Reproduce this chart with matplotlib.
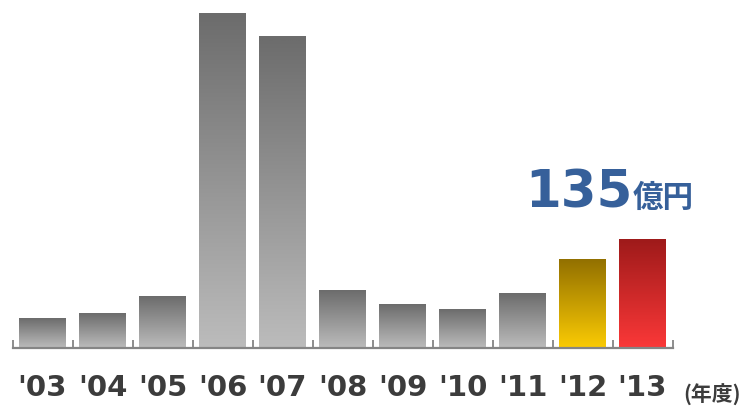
import numpy as np
import matplotlib
matplotlib.use("Agg")
import matplotlib.pyplot as plt
from matplotlib.colors import LinearSegmentedColormap

years = ["'03", "'04", "'05", "'06", "'07", "'08", "'09", "'10", "'11", "'12", "'13"]
values = [37, 43, 64, 414, 386, 71, 54, 48, 68, 109, 135]
highlight_value = "135"
highlight_unit = "億円"
unit_label = "(年度)"

gray = ("#6c6c6c", "#bcbcbc")
gold = ("#927000", "#fbcb04")
red = ("#9e1a1a", "#fb3838")
bar_colors = [gray] * 9 + [gold, red]

W, H = 750, 408
fig = plt.figure(figsize=(W / 100, H / 100), dpi=100)
ax_left, ax_right = 12.5, 672.5
ax_bottom_px, ax_top_px = 348, 0
ax = fig.add_axes([ax_left / W, (H - ax_bottom_px) / H,
                   (ax_right - ax_left) / W, (ax_bottom_px - ax_top_px) / H])
ymax = 348 * 135 / 109
ax.set_xlim(-0.5, len(years) - 0.5)
ax.set_ylim(0, ymax)

bw = 47 / 60
for i, (v, (ct, cb)) in enumerate(zip(values, bar_colors)):
    cmap = LinearSegmentedColormap.from_list("g%d" % i, [cb, ct])
    grad = np.linspace(0, 1, 256).reshape(-1, 1)
    ax.imshow(grad, cmap=cmap, origin="lower", aspect="auto",
              extent=(i - bw / 2, i + bw / 2, 0, v), interpolation="bicubic", zorder=2)
ax.set_xlim(-0.5, len(years) - 0.5)
ax.set_ylim(0, ymax)

for s in ["top", "left", "right"]:
    ax.spines[s].set_visible(False)
ax.spines["bottom"].set_color("#858585")
ax.spines["bottom"].set_linewidth(1.6)
ax.spines["bottom"].set_zorder(3)
ax.set_yticks([])
ax.set_xticks(np.arange(-0.5, len(years), 1.0))
ax.tick_params(axis="x", direction="in", length=6, width=1.3, color="#858585", labelbottom=False)
ax.set_facecolor("none")

for i, y in enumerate(years):
    ax.annotate(y, xy=(i, 0), xytext=(0, -29), textcoords="offset points",
                ha="center", va="center", fontsize=21, fontweight="bold",
                color="#3c3c3c", family="DejaVu Sans", annotation_clip=False)

fig.text(712 / W, 1 - 395 / H, unit_label, ha="center", va="center", fontsize=15,
         fontweight="bold", color="#3c3c3c", family=["Noto Sans CJK JP", "DejaVu Sans"])

base_px = 207
yv = (348 - base_px) * 135 / 109
ax.text((525 - ax_left) / 60 - 0.5, yv, highlight_value, ha="left", va="baseline",
        fontsize=37, fontweight="bold", color="#36609a", family="DejaVu Sans")
ax.text((633 - ax_left) / 60 - 0.5, yv, highlight_unit, ha="left", va="baseline",
        fontsize=22, fontweight="bold", color="#36609a", family=["Noto Sans CJK JP", "DejaVu Sans"])

fig.savefig("out.png", dpi=100)
